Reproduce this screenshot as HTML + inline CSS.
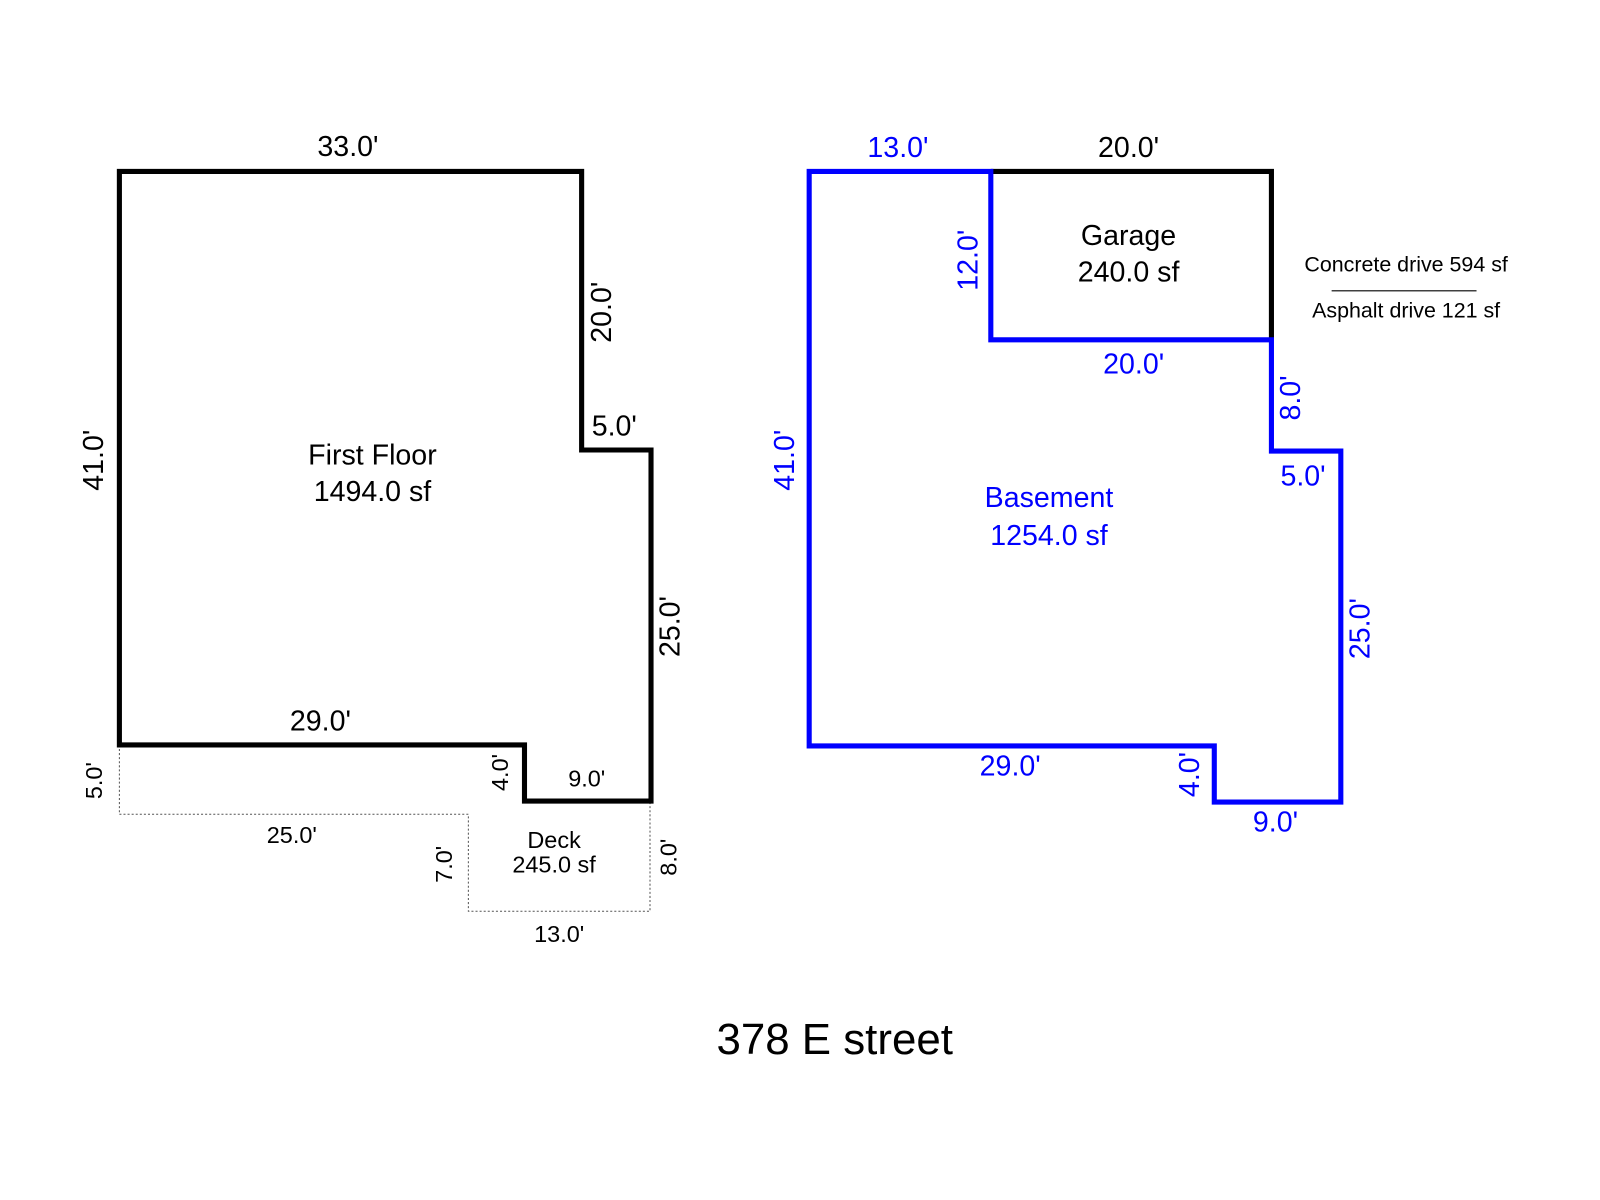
<!DOCTYPE html>
<html><head><meta charset="utf-8"><style>html,body{margin:0;padding:0;background:#fff}svg{display:block}</style></head>
<body>
<svg width="1600" height="1200" viewBox="0 0 1568 1176" xmlns="http://www.w3.org/2000/svg" font-family="Liberation Sans, Arial, sans-serif">
<rect width="1568" height="1176" fill="#fff"/>
<polyline points="117,730 117,798 459,798 459,893 637,893 637,785" fill="none" stroke="#555" stroke-width="1" stroke-dasharray="2,2"/>
<polygon points="117,168 570,168 570,441 638,441 638,785 514,785 514,730 117,730" fill="none" stroke="#000" stroke-width="5"/>
<polyline points="971,168 1246,168 1246,333" fill="none" stroke="#000" stroke-width="5"/>
<polygon points="793,168 971,168 971,333 1246,333 1246,442 1314,442 1314,786 1190,786 1190,731 793,731" fill="none" stroke="#0000ff" stroke-width="5"/>
<line x1="1305" y1="285" x2="1447" y2="285" stroke="#000" stroke-width="1"/>
<g font-size="28" fill="#000" text-anchor="middle">
<text x="341" y="153">33.0'</text>
<text x="314" y="716">29.0'</text>
<text x="602" y="427">5.0'</text>
<text x="365" y="455">First Floor</text>
<text x="365" y="491">1494.0 sf</text>
<text transform="translate(101,451) rotate(-90)">41.0'</text>
<text transform="translate(599,306) rotate(-90)">20.0'</text>
<text transform="translate(666,614) rotate(-90)">25.0'</text>
<text x="1106" y="154">20.0'</text>
<text x="1106" y="240">Garage</text>
<text x="1106" y="276">240.0 sf</text>
</g>
<g font-size="23" fill="#000" text-anchor="middle">
<text x="575" y="771">9.0'</text>
<text x="286" y="826">25.0'</text>
<text x="548" y="923">13.0'</text>
<text x="543" y="831">Deck</text>
<text x="543" y="855">245.0 sf</text>
<text transform="translate(100,765) rotate(-90)">5.0'</text>
<text transform="translate(498,757) rotate(-90)">4.0'</text>
<text transform="translate(443,847) rotate(-90)">7.0'</text>
<text transform="translate(663,840) rotate(-90)">8.0'</text>
<text x="1378" y="266" font-size="21">Concrete drive 594 sf</text>
<text x="1378" y="311" font-size="21">Asphalt drive 121 sf</text>
</g>
<g font-size="28" fill="#0000ff" text-anchor="middle">
<text x="880" y="154">13.0'</text>
<text x="1111" y="366">20.0'</text>
<text x="1277" y="476">5.0'</text>
<text x="990" y="760">29.0'</text>
<text x="1250" y="815">9.0'</text>
<text x="1028" y="497">Basement</text>
<text x="1028" y="534">1254.0 sf</text>
<text transform="translate(778,451) rotate(-90)">41.0'</text>
<text transform="translate(958,255) rotate(-90)">12.0'</text>
<text transform="translate(1274,390) rotate(-90)">8.0'</text>
<text transform="translate(1342,616) rotate(-90)">25.0'</text>
<text transform="translate(1175,759) rotate(-90)">4.0'</text>
</g>
<text x="818" y="1033" font-size="43" text-anchor="middle" fill="#000">378 E street</text>
</svg>
</body></html>
